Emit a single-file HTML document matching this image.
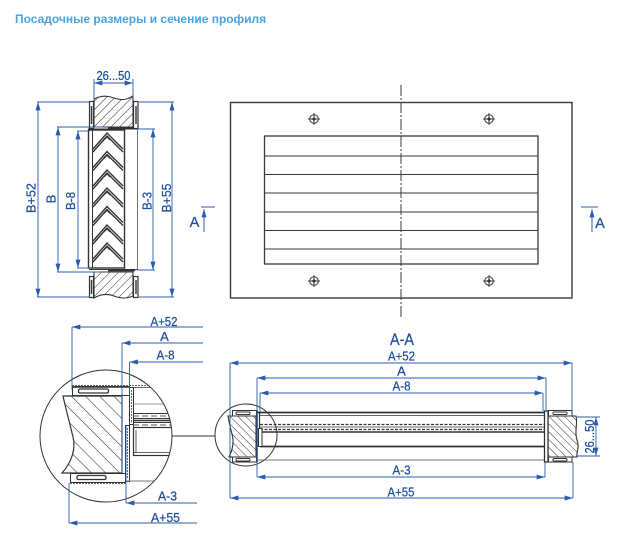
<!DOCTYPE html>
<html>
<head>
<meta charset="utf-8">
<style>
  html,body{margin:0;padding:0;background:#fff;}
  svg{display:block;}
  .t{font-family:"Liberation Sans","DejaVu Sans",sans-serif;fill:#1f4f9e;stroke:#1f4f9e;stroke-width:0.25;}
</style>
</head>
<body>
<svg width="625" height="559" viewBox="0 0 625 559" xmlns="http://www.w3.org/2000/svg">
<defs>
  <marker id="a" viewBox="0 0 10 6" refX="10" refY="3" markerWidth="9" markerHeight="5" markerUnits="userSpaceOnUse" orient="auto-start-reverse">
    <path d="M0,0 L10,3 L0,6 z" fill="#2b5bb0"/>
  </marker>
  <pattern id="h1" width="6" height="6" patternUnits="userSpaceOnUse" patternTransform="rotate(45)">
    <line x1="0" y1="0" x2="0" y2="6" stroke="#333" stroke-width="1"/>
  </pattern>
  <pattern id="h2" width="5.5" height="5.5" patternUnits="userSpaceOnUse" patternTransform="rotate(-45)">
    <line x1="0" y1="0" x2="0" y2="6" stroke="#333" stroke-width="1"/>
  </pattern>
  <pattern id="h3" width="10" height="10" patternUnits="userSpaceOnUse" patternTransform="rotate(-45)">
    <line x1="0" y1="0" x2="0" y2="10" stroke="#333" stroke-width="1.1"/>
  </pattern>
  <clipPath id="cc"><circle cx="106" cy="436" r="66"/></clipPath>
</defs>

<!-- Title -->
<text x="15" y="23" font-family="Liberation Sans, DejaVu Sans, sans-serif" font-weight="bold" font-size="12" fill="#4aa3df">Посадочные размеры и сечение профиля</text>

<!-- ================= LEFT SIDE VIEW ================= -->
<g stroke="#333" fill="none">
  <path d="M94,99 Q104,94 114,98 T133,96 L133,127 L94,127 Z" fill="url(#h1)" stroke-width="1.1"/>
  <rect x="89.5" y="101.5" width="4" height="27" fill="#fff" stroke-width="1.2"/>
  <line x1="91.5" y1="106" x2="91.5" y2="124" stroke-width="1.4"/>
  <rect x="133.5" y="101.5" width="4.5" height="27" fill="#fff" stroke-width="1.2"/>
  <line x1="136" y1="106" x2="136" y2="124" stroke-width="1.4"/>
  <line x1="88" y1="129" x2="138" y2="129" stroke-width="1"/>
  <line x1="108" y1="128.2" x2="133" y2="128.2" stroke-width="1.8"/>
  <rect x="88.5" y="130" width="36" height="138" stroke-width="1.4"/>
  <line x1="92.5" y1="130" x2="92.5" y2="268" stroke-width="1"/>
  <line x1="137.5" y1="129" x2="137.5" y2="270" stroke="#777" stroke-width="1"/>
  <g stroke-width="1.4">
    <polyline points="93,149 107,133 123,149"/><polyline points="93,152 107,136 123,152"/>
    <polyline points="93,167.5 107,151.5 123,167.5"/><polyline points="93,170.5 107,154.5 123,170.5"/>
    <polyline points="93,186 107,170 123,186"/><polyline points="93,189 107,173 123,189"/>
    <polyline points="93,204 107,188 123,204"/><polyline points="93,207 107,191 123,207"/>
    <polyline points="93,222.5 107,206.5 123,222.5"/><polyline points="93,225.5 107,209.5 123,225.5"/>
    <polyline points="93,241 107,225 123,241"/><polyline points="93,244 107,228 123,244"/>
    <polyline points="93,259 107,243 123,259"/><polyline points="93,262 107,246 123,262"/>
  </g>
  <g stroke-width="0.9">
    <polyline points="104,140 107,137 110,140"/>
    <polyline points="104,158.5 107,155.5 110,158.5"/>
    <polyline points="104,177 107,174 110,177"/>
    <polyline points="104,195 107,192 110,195"/>
    <polyline points="104,213.5 107,210.5 110,213.5"/>
    <polyline points="104,232 107,229 110,232"/>
    <polyline points="104,250 107,247 110,250"/>
  </g>
  <line x1="89" y1="269.5" x2="138" y2="269.5" stroke-width="1"/>
  <line x1="108" y1="270.5" x2="135" y2="270.5" stroke-width="1.8"/>
  <path d="M94,272 L133,272 L133,296 Q124,300 114,296 T94,298 Z" fill="url(#h1)" stroke-width="1.1"/>
  <rect x="89.5" y="276.5" width="4" height="21" fill="#fff" stroke-width="1.2"/>
  <line x1="91.5" y1="280" x2="91.5" y2="294" stroke-width="1.4"/>
  <rect x="133.5" y="276.5" width="4.5" height="21" fill="#fff" stroke-width="1.2"/>
  <line x1="136" y1="280" x2="136" y2="294" stroke-width="1.4"/>
</g>

<g stroke="#2b5bb0" stroke-width="0.9" fill="none">
  <line x1="37" y1="102" x2="90" y2="102"/>
  <line x1="37" y1="297" x2="90" y2="297"/>
  <line x1="57" y1="127" x2="104" y2="127"/>
  <line x1="57" y1="272" x2="100" y2="272"/>
  <line x1="77" y1="131" x2="90" y2="131"/>
  <line x1="77" y1="268" x2="90" y2="268"/>
  <line x1="137" y1="129" x2="155" y2="129"/>
  <line x1="137" y1="270" x2="155" y2="270"/>
  <line x1="139" y1="102" x2="174" y2="102"/>
  <line x1="139" y1="297" x2="174" y2="297"/>
  <line x1="94" y1="79" x2="94" y2="100"/>
  <line x1="133" y1="79" x2="133" y2="98"/>
  <line x1="38" y1="102" x2="38" y2="297" marker-start="url(#a)" marker-end="url(#a)"/>
  <line x1="58" y1="127" x2="58" y2="272" marker-start="url(#a)" marker-end="url(#a)"/>
  <line x1="78" y1="131" x2="78" y2="268" marker-start="url(#a)" marker-end="url(#a)"/>
  <line x1="153" y1="129" x2="153" y2="270" marker-start="url(#a)" marker-end="url(#a)"/>
  <line x1="172" y1="102" x2="172" y2="297" marker-start="url(#a)" marker-end="url(#a)"/>
  <line x1="94" y1="83" x2="133" y2="83" marker-start="url(#a)" marker-end="url(#a)"/>
</g>
<g class="t" font-size="13" text-anchor="middle">
  <text x="113.5" y="80" font-size="12.5" textLength="34" lengthAdjust="spacingAndGlyphs">26...50</text>
  <text transform="translate(35.5,198) rotate(-90)" textLength="30" lengthAdjust="spacingAndGlyphs">B+52</text>
  <text transform="translate(55.5,199) rotate(-90)">B</text>
  <text transform="translate(75,201) rotate(-90)" textLength="18" lengthAdjust="spacingAndGlyphs">B-8</text>
  <text transform="translate(151.5,201) rotate(-90)" textLength="18" lengthAdjust="spacingAndGlyphs">B-3</text>
  <text transform="translate(171,198) rotate(-90)" textLength="29" lengthAdjust="spacingAndGlyphs">B+55</text>
</g>

<!-- ================= FRONT VIEW ================= -->
<g stroke="#3a3a3a" fill="none">
  <rect x="230.5" y="102.5" width="341.5" height="195.5" stroke-width="1.4"/>
  <rect x="264.5" y="136" width="273.5" height="128" stroke-width="1.3"/>
  <g stroke-width="1.1">
    <line x1="264.5" y1="156" x2="538" y2="156"/>
    <line x1="264.5" y1="174.5" x2="538" y2="174.5"/>
    <line x1="264.5" y1="193" x2="538" y2="193"/>
    <line x1="264.5" y1="212" x2="538" y2="212"/>
    <line x1="264.5" y1="230.5" x2="538" y2="230.5"/>
    <line x1="264.5" y1="249" x2="538" y2="249"/>
  </g>
  <line x1="401" y1="85" x2="401" y2="318" stroke-width="1" stroke-dasharray="11 2 2 2"/>
  <g stroke-width="1">
    <circle cx="314" cy="119" r="4.3"/><line x1="308" y1="119" x2="320" y2="119"/><line x1="314" y1="113" x2="314" y2="125"/>
    <circle cx="489" cy="119" r="4.3"/><line x1="483" y1="119" x2="495" y2="119"/><line x1="489" y1="113" x2="489" y2="125"/>
    <circle cx="314" cy="281" r="4.3"/><line x1="308" y1="281" x2="320" y2="281"/><line x1="314" y1="275" x2="314" y2="287"/>
    <circle cx="489" cy="281" r="4.3"/><line x1="483" y1="281" x2="495" y2="281"/><line x1="489" y1="275" x2="489" y2="287"/>
  </g>
  <g fill="#333" stroke="none">
    <circle cx="314" cy="119" r="1.6"/><circle cx="489" cy="119" r="1.6"/>
    <circle cx="314" cy="281" r="1.6"/><circle cx="489" cy="281" r="1.6"/>
  </g>
</g>
<g stroke="#2b5bb0" stroke-width="1" fill="none">
  <line x1="201" y1="207" x2="215" y2="207"/>
  <line x1="204" y1="232" x2="204" y2="209" marker-end="url(#a)"/>
  <line x1="581" y1="207" x2="598" y2="207"/>
  <line x1="592" y1="232" x2="592" y2="209" marker-end="url(#a)"/>
</g>
<text class="t" x="194.5" y="227" font-size="14.5" text-anchor="middle">A</text>
<text class="t" x="600" y="228" font-size="14.5" text-anchor="middle">A</text>

<!-- ================= BOTTOM LEFT DETAIL ================= -->
<g clip-path="url(#cc)" stroke="#333" fill="none">
  <path d="M63,396 L122,396 L122,473 L62,473 C72,462 76,448 73,437 C70,424 66,410 63,396 Z" fill="url(#h3)" stroke-width="1.2"/>
  <rect x="72.5" y="386.5" width="57" height="9" fill="#fff" stroke-width="1"/>
  <rect x="78.5" y="389" width="30" height="4" rx="1.5" stroke-width="1.3"/>
  <line x1="72" y1="385.5" x2="150" y2="385.5" stroke="#666" stroke-width="1" stroke-dasharray="2 1"/>
  <line x1="72" y1="387.5" x2="150" y2="387.5" stroke-width="0.8"/>
  <rect x="129.5" y="387.5" width="4" height="37" fill="#fff" stroke-width="1"/>
  <line x1="131.5" y1="390" x2="131.5" y2="422" stroke="#666" stroke-dasharray="2 1"/>
  <line x1="133" y1="404" x2="175" y2="404" stroke="#777" stroke-width="0.8"/>
  <rect x="133.5" y="413.5" width="42" height="5" fill="#fff" stroke-width="1"/>
  <line x1="133" y1="416" x2="175" y2="416" stroke="#555" stroke-dasharray="6 3"/>
  <line x1="133" y1="420.5" x2="175" y2="420.5" stroke-width="1.4"/>
  <rect x="133.5" y="422.5" width="42" height="5" fill="#fff" stroke-width="1"/>
  <line x1="133" y1="425" x2="175" y2="425" stroke="#555" stroke-dasharray="6 3"/>
  <rect x="133.5" y="427.5" width="42" height="28" fill="#fff" stroke-width="1.2"/>
  <line x1="136" y1="430" x2="136" y2="453" stroke-width="0.8"/>
  <line x1="133" y1="452.5" x2="175" y2="452.5" stroke-width="0.8"/>
  <rect x="125.5" y="425.5" width="4" height="56" fill="#fff" stroke-width="1"/>
  <line x1="127.5" y1="428" x2="127.5" y2="479" stroke="#666" stroke-dasharray="2 1"/>
  <rect x="70.5" y="473.5" width="55" height="9" fill="#fff" stroke-width="1"/>
  <rect x="77" y="475.5" width="29" height="4" rx="1.5" stroke-width="1.3"/>
  <line x1="70" y1="483.5" x2="126" y2="483.5" stroke="#666" stroke-dasharray="2 1"/>
  <line x1="126" y1="481" x2="176" y2="481" stroke="#777" stroke-width="0.9"/>
</g>
<circle cx="106" cy="436" r="66" fill="none" stroke="#333" stroke-width="1"/>
<line x1="172" y1="436" x2="215" y2="436" stroke="#333" stroke-width="1"/>

<g stroke="#2b5bb0" stroke-width="0.9" fill="none">
  <line x1="72" y1="327" x2="72" y2="390"/>
  <line x1="122" y1="343" x2="122" y2="473"/>
  <line x1="129.5" y1="362" x2="129.5" y2="397"/>
  <line x1="126" y1="425" x2="126" y2="503"/>
  <line x1="69" y1="483" x2="69" y2="523"/>
  <line x1="203" y1="327" x2="72" y2="327" marker-end="url(#a)"/>
  <line x1="203" y1="343" x2="122" y2="343" marker-end="url(#a)"/>
  <line x1="203" y1="362" x2="129.5" y2="362" marker-end="url(#a)"/>
  <line x1="197" y1="503" x2="126" y2="503" marker-end="url(#a)"/>
  <line x1="197" y1="523" x2="69" y2="523" marker-end="url(#a)"/>
</g>
<g class="t" font-size="13" text-anchor="middle">
  <text x="164" y="326" textLength="27" lengthAdjust="spacingAndGlyphs">A+52</text>
  <text x="164.5" y="341">A</text>
  <text x="165.5" y="359.5" textLength="18" lengthAdjust="spacingAndGlyphs">A-8</text>
  <text x="167.5" y="500.5" textLength="19" lengthAdjust="spacingAndGlyphs">A-3</text>
  <text x="165.5" y="522" textLength="29" lengthAdjust="spacingAndGlyphs">A+55</text>
</g>

<!-- ================= SECTION A-A ================= -->
<g stroke="#333" fill="none">
  <line x1="257" y1="412.5" x2="545" y2="412.5" stroke-width="1.8"/>
  <line x1="260" y1="415.5" x2="545" y2="415.5" stroke-width="0.8"/>
  <line x1="260" y1="424.5" x2="545" y2="424.5" stroke-width="1.2" stroke-dasharray="3 1.5"/>
  <line x1="260" y1="427" x2="545" y2="427" stroke-width="0.8"/>
  <line x1="260" y1="429.5" x2="545" y2="429.5" stroke-width="1.2" stroke-dasharray="3 1.5"/>
  <line x1="260" y1="432" x2="545" y2="432" stroke-width="1.4"/>
  <line x1="260" y1="446.5" x2="545" y2="446.5" stroke-width="1.8"/>
  <line x1="258" y1="460" x2="546" y2="460" stroke="#777" stroke-width="1"/>
  <line x1="259.5" y1="412" x2="259.5" y2="447" stroke-width="1.2"/>
  <rect x="258.5" y="428.5" width="3.5" height="18" fill="#fff" stroke-width="1"/>
  <path d="M228,416 L256,416 L256,457 L229,457 C233,449 234,441 232,434 C230,427 229,421 228,416 Z" fill="url(#h2)" stroke-width="1.1"/>
  <rect x="232.5" y="410.5" width="24" height="5.5" fill="#fff" stroke-width="1"/>
  <rect x="236" y="412" width="14" height="2.5" rx="1" stroke-width="1"/>
  <rect x="232.5" y="457" width="24" height="5" fill="#fff" stroke-width="1"/>
  <rect x="236" y="458.5" width="14" height="2.5" rx="1" stroke-width="1"/>
  <line x1="257" y1="410" x2="257" y2="462" stroke-width="1.6"/>
  <path d="M548,416 L576,416 C578,424 574,432 577,440 C580,448 576,452 577,457 L548,457 Z" fill="url(#h2)" stroke-width="1.1"/>
  <rect x="548.5" y="410.5" width="23.5" height="5.5" fill="#fff" stroke-width="1"/>
  <rect x="553" y="412" width="14" height="2.5" rx="1" stroke-width="1"/>
  <rect x="548.5" y="457" width="23.5" height="5" fill="#fff" stroke-width="1"/>
  <rect x="553" y="458.5" width="14" height="2.5" rx="1" stroke-width="1"/>
  <rect x="544.5" y="411" width="3.5" height="51" fill="#fff" stroke-width="1.3"/>
</g>
<circle cx="246" cy="435" r="31" fill="none" stroke="#333" stroke-width="1"/>

<g stroke="#2b5bb0" stroke-width="0.9" fill="none">
  <line x1="230" y1="363" x2="230" y2="498"/>
  <line x1="257" y1="378" x2="257" y2="477"/>
  <line x1="260" y1="393" x2="260" y2="412"/>
  <line x1="572" y1="363" x2="572" y2="411"/>
  <line x1="573" y1="462" x2="573" y2="498"/>
  <line x1="546" y1="378" x2="546" y2="411"/>
  <line x1="543" y1="393" x2="543" y2="411"/>
  <line x1="545" y1="462" x2="545" y2="477"/>
  <line x1="577" y1="417" x2="600" y2="417"/>
  <line x1="577" y1="456" x2="600" y2="456"/>
  <line x1="230" y1="363" x2="572" y2="363" marker-start="url(#a)" marker-end="url(#a)"/>
  <line x1="257" y1="378" x2="546" y2="378" marker-start="url(#a)" marker-end="url(#a)"/>
  <line x1="260" y1="393" x2="543" y2="393" marker-start="url(#a)" marker-end="url(#a)"/>
  <line x1="257" y1="477" x2="545" y2="477" marker-start="url(#a)" marker-end="url(#a)"/>
  <line x1="230" y1="498" x2="573" y2="498" marker-start="url(#a)" marker-end="url(#a)"/>
  <line x1="596" y1="417" x2="596" y2="456" marker-start="url(#a)" marker-end="url(#a)"/>
</g>
<g class="t" text-anchor="middle">
  <text x="402" y="345" font-size="17" textLength="24" lengthAdjust="spacingAndGlyphs">A-A</text>
  <text x="401.5" y="360.5" font-size="13" textLength="27" lengthAdjust="spacingAndGlyphs">A+52</text>
  <text x="401.5" y="375.5" font-size="13">A</text>
  <text x="401.5" y="390.5" font-size="13" textLength="18" lengthAdjust="spacingAndGlyphs">A-8</text>
  <text x="401.5" y="474.5" font-size="13" textLength="18" lengthAdjust="spacingAndGlyphs">A-3</text>
  <text x="401" y="496.5" font-size="13" textLength="27" lengthAdjust="spacingAndGlyphs">A+55</text>
  <text transform="translate(594,436.5) rotate(-90)" font-size="12.5" textLength="34" lengthAdjust="spacingAndGlyphs">26...50</text>
</g>
</svg>
</body>
</html>
